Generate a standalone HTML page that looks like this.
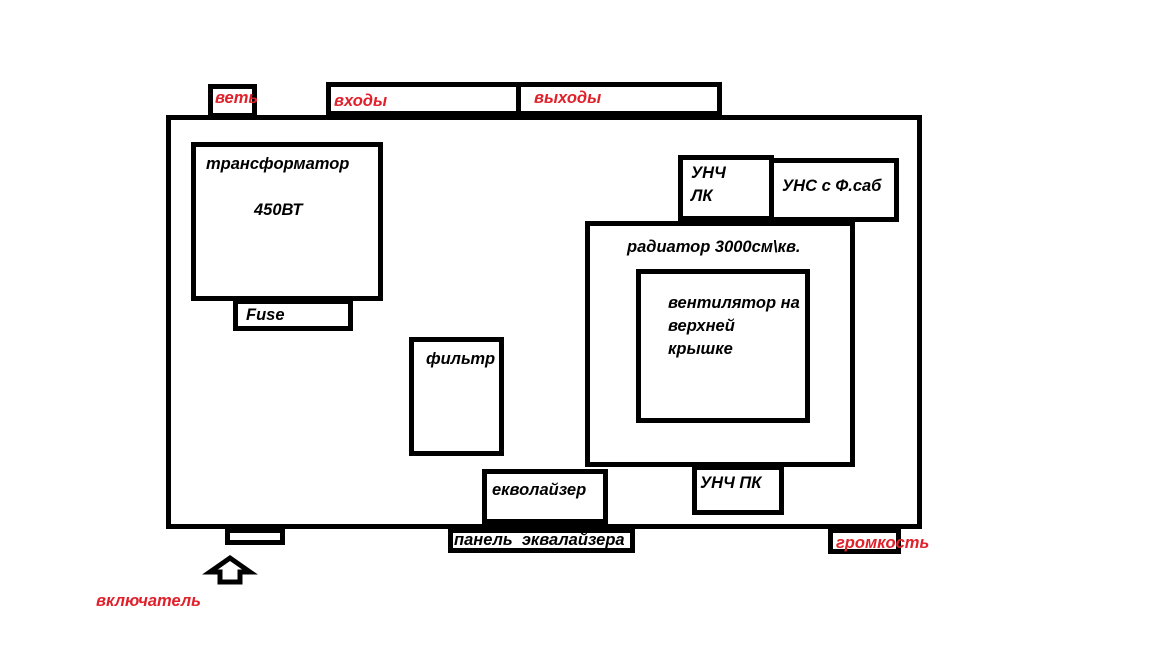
<!DOCTYPE html>
<html><head><meta charset="utf-8"><style>
body{margin:0;width:1163px;height:664px;background:#fff;position:relative;overflow:hidden;font-family:"Liberation Sans","DejaVu Sans",sans-serif;}
.b{position:absolute;border:5px solid #000;box-sizing:border-box;background:#fff;}
.t{position:absolute;font-weight:bold;font-style:italic;font-size:16.5px;color:#000;white-space:nowrap;line-height:1;}
.r{color:#e0202a;}
</style></head><body>
<div class="b" style="left:166px;top:115px;width:756px;height:414px;"></div>
<div class="b" style="left:208px;top:84px;width:49px;height:34px;"></div>
<div class="b" style="left:326px;top:82px;width:196px;height:34px;"></div>
<div class="b" style="left:516px;top:82px;width:206px;height:34px;"></div>
<div class="b" style="left:191px;top:142px;width:192px;height:159px;"></div>
<div class="b" style="left:233px;top:299px;width:120px;height:32px;"></div>
<div class="b" style="left:409px;top:337px;width:95px;height:119px;"></div>
<div class="b" style="left:678px;top:155px;width:96px;height:66px;"></div>
<div class="b" style="left:769px;top:158px;width:130px;height:64px;"></div>
<div class="b" style="left:585px;top:221px;width:270px;height:246px;"></div>
<div class="b" style="left:636px;top:269px;width:174px;height:154px;"></div>
<div class="b" style="left:692px;top:465px;width:92px;height:50px;"></div>
<div class="b" style="left:482px;top:469px;width:126px;height:55px;"></div>
<div class="b" style="left:448px;top:528px;width:187px;height:25px;"></div>
<div class="b" style="left:225px;top:528px;width:60px;height:17px;"></div>
<div class="b" style="left:828px;top:528px;width:73px;height:26px;"></div>
<svg style="position:absolute;left:200px;top:552px" width="60" height="36"><polygon points="30,6 50,20 40,20 40,30 20,30 20,20 10,20" fill="#fff" stroke="#000" stroke-width="5" stroke-linejoin="miter"/></svg>

<div class="t r" style="left:215px;top:90px;">веть</div>
<div class="t r" style="left:334px;top:93px;">входы</div>
<div class="t r" style="left:534px;top:90px;">выходы</div>
<div class="t" style="left:206px;top:156px;">трансформатор</div>
<div class="t" style="left:254px;top:202px;">450ВТ</div>
<div class="t" style="left:246px;top:307px;">Fuse</div>
<div class="t" style="left:426px;top:351px;">фильтр</div>
<div class="t" style="left:691px;top:165px;">УНЧ</div>
<div class="t" style="left:691px;top:188px;">ЛК</div>
<div class="t" style="left:782px;top:178px;">УНС с Ф.саб</div>
<div class="t" style="left:627px;top:239px;">радиатор 3000см\кв.</div>
<div class="t" style="left:668px;top:295px;">вентилятор на</div>
<div class="t" style="left:668px;top:318px;">верхней</div>
<div class="t" style="left:668px;top:341px;">крышке</div>
<div class="t" style="left:700px;top:475px;">УНЧ ПК</div>
<div class="t" style="left:492px;top:482px;">екволайзер</div>
<div class="t" style="left:454px;top:532px;">панель &nbsp;эквалайзера</div>
<div class="t r" style="left:836px;top:535px;">громкость</div>
<div class="t r" style="left:96px;top:593px;">включатель</div>
</body></html>
